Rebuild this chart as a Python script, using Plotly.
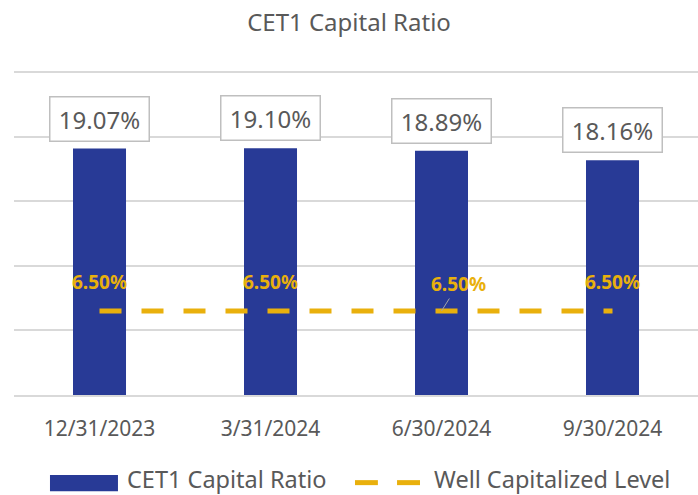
import plotly.graph_objects as go

categories = ["12/31/2023", "3/31/2024", "6/30/2024", "9/30/2024"]
cet1 = [19.07, 19.10, 18.89, 18.16]
well_cap = [6.50, 6.50, 6.50, 6.50]
series_names = ["CET1 Capital Ratio", "Well Capitalized Level"]

NAVY = "#283A96"
GOLD = "#E9B00C"
GRAY = "#595959"
FONT = "Noto Sans"

fig = go.Figure()
fig.add_trace(go.Bar(x=categories, y=cet1, name=series_names[0],
                     marker=dict(color=NAVY, line=dict(width=0)), width=0.31))
fig.add_trace(go.Scatter(x=categories, y=well_cap, name=series_names[1],
                         mode="lines", line=dict(color=GOLD, width=5, dash="22px,20px")))

for c, v in zip(categories, cet1):
    fig.add_annotation(x=c, y=v, text=f"{v:.2f}%", showarrow=False, yanchor="bottom",
                       yshift=7, font=dict(family=FONT, size=24, color=GRAY),
                       width=98, height=43, borderpad=0,
                       bordercolor="#BFBFBF", borderwidth=1.5, bgcolor="white")

for i, (c, v) in enumerate(zip(categories, well_cap)):
    if i == 2:
        fig.add_annotation(x=c, y=v, text=f"<b>{v:.2f}%</b>", showarrow=True, arrowhead=0,
                           arrowcolor="#A6A6A6", arrowwidth=1, ax=17, ay=-27,
                           font=dict(family=FONT, size=19, color=GOLD))
    else:
        fig.add_annotation(x=c, y=v, text=f"<b>{v:.2f}%</b>", showarrow=False,
                           yshift=29, font=dict(family=FONT, size=19, color=GOLD))

# custom legend (paper coordinates)
fig.add_shape(type="rect", xref="paper", yref="paper", x0=0.0526, x1=0.152,
              y0=-0.294, y1=-0.2445, fillcolor=NAVY, line=dict(width=0))
fig.add_annotation(xref="paper", yref="paper", x=0.1623, y=-0.2569, xanchor="left",
                   yanchor="middle", showarrow=False, text=series_names[0],
                   font=dict(family=FONT, size=23.5, color=GRAY))
fig.add_shape(type="line", xref="paper", yref="paper", x0=0.4985, x1=0.532,
              y0=-0.268, y1=-0.268, line=dict(color=GOLD, width=5))
fig.add_shape(type="line", xref="paper", yref="paper", x0=0.560, x1=0.5936,
              y0=-0.268, y1=-0.268, line=dict(color=GOLD, width=5))
fig.add_annotation(xref="paper", yref="paper", x=0.611, y=-0.2569, xanchor="left",
                   yanchor="middle", showarrow=False, text=series_names[1],
                   font=dict(family=FONT, size=23.5, color=GRAY))

fig.update_layout(
    width=698, height=495,
    margin=dict(l=14, r=0, t=68, b=100, autoexpand=False),
    plot_bgcolor="white", paper_bgcolor="white",
    title=dict(text="CET1 Capital Ratio", x=0.5, xanchor="center", y=0.955, yanchor="middle",
               font=dict(family=FONT, size=24, color=GRAY)),
    font=dict(family=FONT, color=GRAY),
    bargap=0.69,
    showlegend=False,
    xaxis=dict(showgrid=False, showline=True, linecolor="#D9D9D9", linewidth=1.5,
               tickfont=dict(family=FONT, size=21, color=GRAY), ticklabelstandoff=14,
               automargin=False),
    yaxis=dict(range=[0, 25.3], tickvals=[5, 10, 15, 20, 25], showgrid=True,
               gridcolor="#D9D9D9", gridwidth=1.5,
               showticklabels=False, zeroline=False, automargin=False),
)

fig.write_html("out.html", config={"displayModeBar": False},
               post_script="document.body.style.margin='0px';")
